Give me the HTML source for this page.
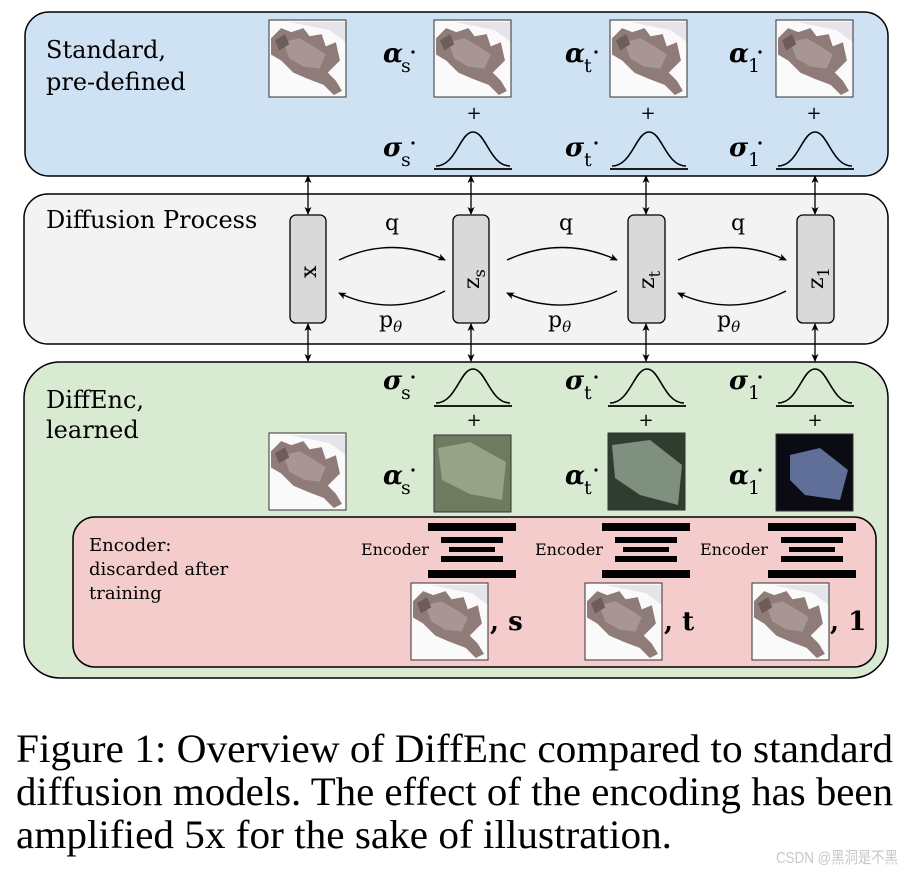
<!DOCTYPE html>
<html><head><meta charset="utf-8"><style>
html,body{margin:0;padding:0;background:#fff;}
svg{display:block;}
</style></head><body>
<svg width="902" height="872" viewBox="0 0 902 872" xmlns="http://www.w3.org/2000/svg" font-family="DejaVu Serif, Liberation Serif, serif">
<defs>
<marker id="ah" markerWidth="8" markerHeight="8" refX="7" refY="4" orient="auto" markerUnits="userSpaceOnUse">
<path d="M0,0.5 L8,4 L0,7.5 L2,4z" fill="#000"/></marker>
<symbol id="cat" viewBox="0 0 76 76">
<rect width="76" height="76" fill="#fafafa"/>
<path d="M20,2 L76,2 L76,22 L60,10z" fill="#e4e4ea"/>
<path d="M2,18 L12,8 L22,12 L34,8 L40,16 L52,14 L56,26 L66,22 L70,40 L58,52 L66,60 L72,70 L64,74 L54,64 L38,58 L24,52 L12,40 L2,34z" fill="#8f7b78"/>
<path d="M14,22 L30,18 L44,26 L56,34 L50,48 L34,46 L20,38z" fill="#a89694"/>
<path d="M6,20 L16,14 L20,24 L10,30z" fill="#6e5c58"/>
</symbol>
<symbol id="bell" viewBox="0 0 78 40">
<path d="M2,36 C22,36 26,2 39,2 C52,2 56,36 76,36" fill="none" stroke="#000" stroke-width="1.6"/>
<line x1="0" y1="39" x2="78" y2="39" stroke="#000" stroke-width="1.8"/>
</symbol>
<symbol id="enc" viewBox="0 0 88 56">
<rect x="0" y="0" width="88" height="8" fill="#000"/>
<rect x="13" y="14" width="62" height="6" fill="#000"/>
<rect x="21" y="24" width="46" height="5" fill="#000"/>
<rect x="13" y="33" width="62" height="6" fill="#000"/>
<rect x="0" y="47" width="88" height="8" fill="#000"/>
</symbol>
</defs>

<rect x="25" y="12" width="863" height="164" rx="24" fill="#cfe2f3" stroke="#000" stroke-width="1.5"/>
<rect x="24" y="194" width="864" height="150" rx="24" fill="#f3f3f3" stroke="#000" stroke-width="1.5"/>
<rect x="24" y="362" width="864" height="316" rx="36" fill="#d9ead3" stroke="#000" stroke-width="1.5"/>
<rect x="73" y="517" width="803" height="150" rx="22" fill="#f4cccc" stroke="#000" stroke-width="1.5"/>

<text x="46" y="58" font-size="24">Standard,</text>
<text x="46" y="90" font-size="24">pre-defined</text>
<text x="46" y="228" font-size="24">Diffusion Process</text>
<text x="46" y="408" font-size="24">DiffEnc,</text>
<text x="46" y="438" font-size="24">learned</text>
<text x="89" y="551" font-size="18">Encoder:</text>
<text x="89" y="575" font-size="18">discarded after</text>
<text x="89" y="599" font-size="18">training</text>

<use href="#cat" x="269" y="20" width="77" height="77"/>
<use href="#cat" x="434" y="20" width="77" height="77"/>
<use href="#cat" x="610" y="20" width="77" height="77"/>
<use href="#cat" x="776" y="20" width="77" height="77"/>
<rect x="269" y="20" width="77" height="77" fill="none" stroke="#333"/>
<rect x="434" y="20" width="77" height="77" fill="none" stroke="#333"/>
<rect x="610" y="20" width="77" height="77" fill="none" stroke="#333"/>
<rect x="776" y="20" width="77" height="77" fill="none" stroke="#333"/>
<g font-size="26" font-weight="bold" font-style="italic">
<text x="383" y="62">α</text><text x="565" y="62">α</text><text x="729" y="62">α</text>
<text x="383" y="156">σ</text><text x="565" y="156">σ</text><text x="729" y="156">σ</text>
<text x="383" y="389">σ</text><text x="565" y="389">σ</text><text x="729" y="389">σ</text>
<text x="383" y="484">α</text><text x="565" y="484">α</text><text x="729" y="484">α</text>
</g>
<g font-size="19">
<text x="401" y="72">s</text><text x="584" y="72">t</text><text x="748" y="72">1</text>
<text x="401" y="166">s</text><text x="584" y="166">t</text><text x="748" y="166">1</text>
<text x="401" y="399">s</text><text x="584" y="399">t</text><text x="748" y="399">1</text>
<text x="401" y="494">s</text><text x="584" y="494">t</text><text x="748" y="494">1</text>
</g>
<g fill="#000">
<circle cx="413" cy="52" r="1.6"/><circle cx="596" cy="52" r="1.6"/><circle cx="760" cy="52" r="1.6"/>
<circle cx="413" cy="143" r="1.6"/><circle cx="596" cy="143" r="1.6"/><circle cx="760" cy="143" r="1.6"/>
<circle cx="413" cy="377" r="1.6"/><circle cx="596" cy="377" r="1.6"/><circle cx="760" cy="377" r="1.6"/>
<circle cx="413" cy="470" r="1.6"/><circle cx="596" cy="470" r="1.6"/><circle cx="760" cy="470" r="1.6"/>
</g>
<g font-size="18" text-anchor="middle">
<text x="474" y="119">+</text><text x="648" y="119">+</text><text x="814" y="119">+</text>
<text x="474" y="426">+</text><text x="646" y="426">+</text><text x="815" y="426">+</text>
</g>
<use href="#bell" x="434" y="130" width="78" height="40"/>
<use href="#bell" x="610" y="130" width="78" height="40"/>
<use href="#bell" x="776" y="130" width="78" height="40"/>
<use href="#bell" x="434" y="367" width="78" height="40"/>
<use href="#bell" x="608" y="367" width="78" height="40"/>
<use href="#bell" x="776" y="367" width="78" height="40"/>

<g stroke="#000" stroke-width="1.3">
<line x1="308" y1="185" x2="308" y2="214" marker-end="url(#ah)"/><line x1="308" y1="186" x2="308" y2="176" marker-end="url(#ah)"/>
<line x1="471" y1="185" x2="471" y2="214" marker-end="url(#ah)"/><line x1="471" y1="186" x2="471" y2="176" marker-end="url(#ah)"/>
<line x1="646" y1="185" x2="646" y2="214" marker-end="url(#ah)"/><line x1="646" y1="186" x2="646" y2="176" marker-end="url(#ah)"/>
<line x1="815" y1="185" x2="815" y2="214" marker-end="url(#ah)"/><line x1="815" y1="186" x2="815" y2="176" marker-end="url(#ah)"/>
<line x1="308" y1="350" x2="308" y2="324" marker-end="url(#ah)"/><line x1="308" y1="350" x2="308" y2="361" marker-end="url(#ah)"/>
<line x1="471" y1="350" x2="471" y2="324" marker-end="url(#ah)"/><line x1="471" y1="350" x2="471" y2="361" marker-end="url(#ah)"/>
<line x1="646" y1="350" x2="646" y2="324" marker-end="url(#ah)"/><line x1="646" y1="350" x2="646" y2="361" marker-end="url(#ah)"/>
<line x1="815" y1="350" x2="815" y2="324" marker-end="url(#ah)"/><line x1="815" y1="350" x2="815" y2="361" marker-end="url(#ah)"/>
</g>

<g fill="#d9d9d9" stroke="#000" stroke-width="1.3">
<rect x="290" y="215" width="36" height="108" rx="6"/>
<rect x="453" y="215" width="36" height="108" rx="6"/>
<rect x="628" y="215" width="37" height="108" rx="6"/>
<rect x="797" y="215" width="37" height="108" rx="6"/>
</g>
<g font-size="22">
<text transform="translate(316,278) rotate(-90)">x</text>
<text transform="translate(479,289) rotate(-90)">z<tspan font-size="16" dy="6">s</tspan></text>
<text transform="translate(654,289) rotate(-90)">z<tspan font-size="16" dy="6">t</tspan></text>
<text transform="translate(823,289) rotate(-90)">z<tspan font-size="16" dy="6">1</tspan></text>
</g>
<g fill="none" stroke="#000" stroke-width="1.4">
<path d="M339,260 Q392,235 445,260" marker-end="url(#ah)"/>
<path d="M445,291 Q392,318 339,293" marker-end="url(#ah)"/>
<path d="M507,260 Q562,235 617,260" marker-end="url(#ah)"/>
<path d="M617,291 Q562,318 507,293" marker-end="url(#ah)"/>
<path d="M678,260 Q732,235 786,260" marker-end="url(#ah)"/>
<path d="M786,291 Q732,318 678,293" marker-end="url(#ah)"/>
</g>
<g font-size="22" text-anchor="middle">
<text x="392" y="230">q</text><text x="566" y="230">q</text><text x="738" y="230">q</text>
</g>
<g font-size="22">
<text x="379" y="327">p<tspan font-size="15" font-style="italic" dy="5">θ</tspan></text>
<text x="548" y="327">p<tspan font-size="15" font-style="italic" dy="5">θ</tspan></text>
<text x="717" y="327">p<tspan font-size="15" font-style="italic" dy="5">θ</tspan></text>
</g>

<use href="#cat" x="269" y="433" width="77" height="77"/>
<rect x="269" y="433" width="77" height="77" fill="none" stroke="#333"/>
<rect x="434" y="435" width="77" height="77" fill="#6f7b5e" stroke="#333"/>
<path d="M438,448 L470,442 L506,462 L502,500 L470,494 L442,480z" fill="#97a287"/>
<rect x="608" y="433" width="77" height="77" fill="#2f3d2e" stroke="#333"/>
<path d="M612,445 L650,440 L682,465 L678,505 L640,495 L615,478z" fill="#7f8f80"/>
<rect x="776" y="434" width="77" height="77" fill="#0b0b14" stroke="#333"/>
<path d="M790,455 L820,448 L848,470 L840,500 L805,495 L790,480z" fill="#5f6f98"/>

<use href="#enc" x="428" y="523" width="88" height="56"/>
<use href="#enc" x="602" y="523" width="88" height="56"/>
<use href="#enc" x="768" y="523" width="88" height="56"/>
<g font-size="16">
<text x="361" y="555">Encoder</text><text x="535" y="555">Encoder</text><text x="700" y="555">Encoder</text>
</g>
<use href="#cat" x="411" y="583" width="77" height="77"/>
<use href="#cat" x="585" y="583" width="77" height="77"/>
<use href="#cat" x="752" y="583" width="77" height="77"/>
<rect x="411" y="583" width="77" height="77" fill="none" stroke="#333"/>
<rect x="585" y="583" width="77" height="77" fill="none" stroke="#333"/>
<rect x="752" y="583" width="77" height="77" fill="none" stroke="#333"/>
<g font-size="26" font-weight="bold">
<text x="490" y="630">, s</text><text x="664" y="630">, t</text><text x="830" y="630">, 1</text>
</g>

<g style="font-family:'Liberation Serif',serif;font-size:40px">
<text x="16" y="762" textLength="877" lengthAdjust="spacingAndGlyphs">Figure 1: Overview of DiffEnc compared to standard</text>
<text x="16" y="805" textLength="877" lengthAdjust="spacingAndGlyphs">diffusion models. The effect of the encoding has been</text>
<text x="16" y="848" textLength="656" lengthAdjust="spacingAndGlyphs">amplified 5x for the sake of illustration.</text>
</g>
<text x="776" y="863" textLength="122" lengthAdjust="spacingAndGlyphs" fill="#c8c8c8" style="font-family:'Liberation Sans','Noto Sans CJK SC',sans-serif;font-size:16px">CSDN @黑洞是不黑</text>
</svg>
</body></html>
